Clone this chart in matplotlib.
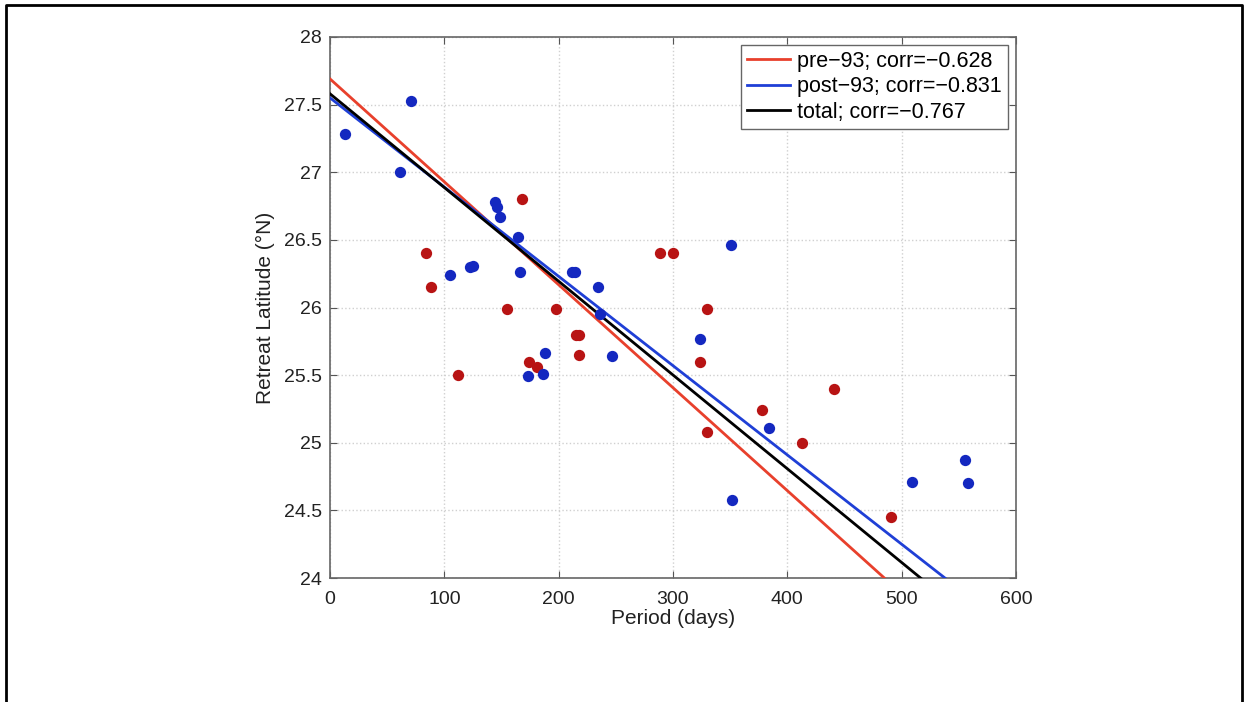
import matplotlib
matplotlib.use("Agg")
import matplotlib.pyplot as plt
from matplotlib.lines import Line2D
import numpy as np

plt.rcParams['font.family'] = ['Liberation Sans', 'DejaVu Sans']

# ---- data ----
pre_period = [168, 84, 88, 112, 155, 198, 215, 218, 218, 174, 181,
              289, 300, 330, 324, 441, 378, 330, 413, 491]
pre_lat = [26.80, 26.40, 26.15, 25.50, 25.99, 25.99, 25.80, 25.80, 25.65, 25.60, 25.56,
           26.40, 26.40, 25.99, 25.60, 25.40, 25.24, 25.08, 25.00, 24.45]

post_period = [13, 71, 61, 144, 146, 149, 164, 122, 125, 105, 166, 212, 214, 234,
               236, 188, 173, 186, 247, 351, 324, 384, 352, 509, 555, 558]
post_lat = [27.28, 27.53, 27.00, 26.78, 26.74, 26.67, 26.52, 26.30, 26.31, 26.24, 26.26,
            26.26, 26.26, 26.15, 25.95, 25.66, 25.49, 25.51, 25.64, 26.46, 25.77, 25.11,
            24.58, 24.71, 24.87, 24.70]

# fitted lines: (intercept, slope)
fit_names = ['pre\u221293; corr=\u22120.628', 'post\u221293; corr=\u22120.831', 'total; corr=\u22120.767']
fit_intercept = [27.69, 27.55, 27.58]
fit_slope = [-0.00761, -0.00660, -0.00693]
fit_colors = ['#e8402c', '#1f3fd6', '#000000']

xticks = [0, 100, 200, 300, 400, 500, 600]
yticks = [24, 24.5, 25, 25.5, 26, 26.5, 27, 27.5, 28]
ytick_labels = ['24', '24.5', '25', '25.5', '26', '26.5', '27', '27.5', '28']

fig = plt.figure(figsize=(12.44, 7.02), dpi=100)
ax = fig.add_axes([0.2653, 0.1766, 0.5514, 0.7707])

xx = np.array([0, 600])
handles = []
for name, b, m, c in zip(fit_names, fit_intercept, fit_slope, fit_colors):
    h, = ax.plot(xx, b + m * xx, color=c, lw=2.0, label=name, zorder=3)
    handles.append(h)

ax.scatter(pre_period, pre_lat, s=66, color='#b81414', zorder=4, linewidths=0)
ax.scatter(post_period, post_lat, s=66, color='#1428c0', zorder=4, linewidths=0)

ax.set_xlim(0, 600)
ax.set_ylim(24, 28)
ax.set_xticks(xticks)
ax.set_xticklabels([str(t) for t in xticks])
ax.set_yticks(yticks)
ax.set_yticklabels(ytick_labels)
ax.grid(True, linestyle=':', color='#d0d0d0', linewidth=1.0)
ax.tick_params(direction='in', top=True, right=True, labelsize=14,
               colors='#555555', labelcolor='#222222', length=5)
ax.tick_params(axis='x', pad=9)
ax.tick_params(axis='y', pad=6)
for sp in ax.spines.values():
    sp.set_color('#666666')
    sp.set_linewidth(1.2)

ax.set_xlabel('Period (days)', fontsize=15, color='#222222', labelpad=1)
ax.set_ylabel('Retreat Latitude (\u00b0N)', fontsize=15, color='#222222', labelpad=6)

leg = ax.legend(handles=handles, loc='upper right', fontsize=15.5, frameon=True,
                fancybox=False, edgecolor='#666666', framealpha=1.0,
                handlelength=2.0, handletextpad=0.3, borderpad=0.3,
                labelspacing=0.2, borderaxespad=0.0,
                bbox_to_anchor=(0.988, 0.986))
leg.get_frame().set_linewidth(1.0)

# outer frame around the figure (left, top, right edges)
W, H = 1244.0, 702.0
fx0, fx1 = 6 / W, 1242 / W
fy_top = 1 - 5 / H
fig.add_artist(Line2D([fx0, fx0, fx1, fx1], [0, fy_top, fy_top, 0],
                      transform=fig.transFigure, color='black', lw=2.0))

fig.savefig('out.png', dpi=100)
